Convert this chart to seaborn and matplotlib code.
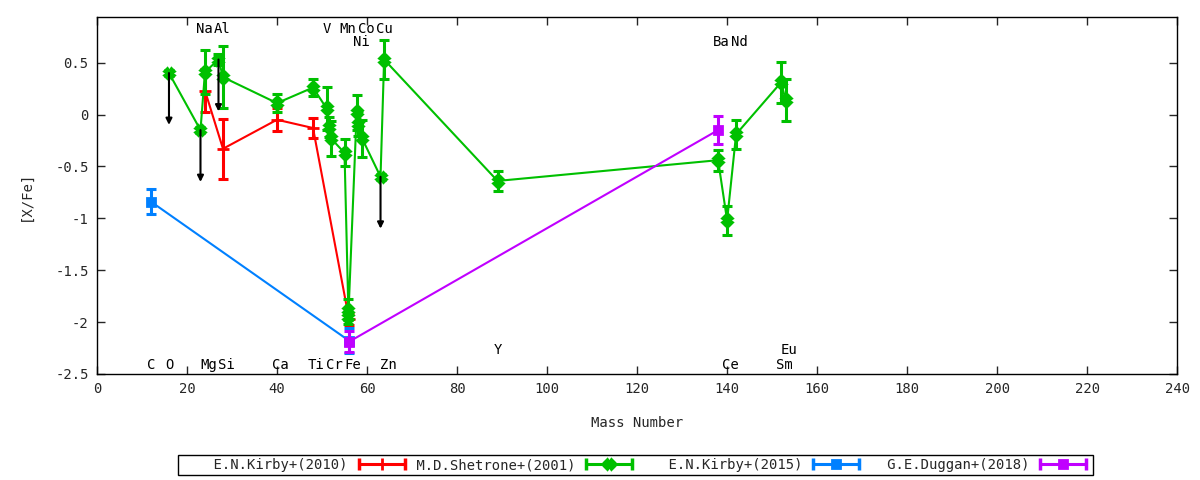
import matplotlib
matplotlib.use("Agg")
import matplotlib.pyplot as plt
import numpy as np
import seaborn as sns
from matplotlib.lines import Line2D
from matplotlib.legend_handler import HandlerLine2D
from matplotlib.ticker import FuncFormatter

# E.N.Kirby+(2010)
kirby10_mass = [24, 28, 40, 48, 56]
kirby10_xfe = [0.23, -0.33, -0.05, -0.13, -1.97]
kirby10_err = [0.21, 0.29, 0.11, 0.10, 0.06]

# M.D.Shetrone+(2001)
shetrone_mass = [16, 23, 24, 27, 28, 40, 48, 51, 51.5, 52, 55, 55.85, 55.85,
                 57.7, 58.1, 58.9, 63, 63.8, 89, 138, 140, 142, 152, 153]
shetrone_xfe = [0.40, -0.15, 0.41, 0.53, 0.36, 0.11, 0.26, 0.06, -0.12, -0.23, -0.37, -1.88, -1.95,
                0.02, -0.09, -0.23, -0.60, 0.53, -0.64, -0.44, -1.02, -0.19, 0.31, 0.14]
shetrone_err = [0.03, 0.03, 0.21, 0.05, 0.30, 0.09, 0.08, 0.21, 0.10, 0.17, 0.13, 0.10, 0.07,
                0.17, 0.12, 0.18, 0.03, 0.19, 0.10, 0.10, 0.14, 0.14, 0.20, 0.20]
# upper limits (O, Na, Al, Cu)
ulim_mass = [16, 23, 27, 63]
ulim_xfe = [0.40, -0.15, 0.53, -0.60]

# E.N.Kirby+(2015)
kirby15_mass = [12, 56]
kirby15_xfe = [-0.84, -2.18]
kirby15_err = [0.12, 0.12]

# G.E.Duggan+(2018)
duggan_mass = [56, 138]
duggan_xfe = [-2.19, -0.15]
duggan_err = [0.10, 0.135]

# element labels
top_names = ["Na", "Al", "V", "Mn", "Co", "Cu"]
top_mass = [23, 27, 51, 55, 59, 63]
mid_names = ["Ni", "Ba", "Nd"]
mid_mass = [58, 138, 142]
bot_names = ["C", "O", "Mg", "Si", "Ca", "Ti", "Cr", "Fe", "Zn", "Ce", "Sm"]
bot_mass = [12, 16, 24, 28, 40, 48, 52, 56, 64, 140, 152]
bot2_names = ["Y", "Eu"]
bot2_mass = [89, 153]

sns.set_style("ticks")
plt.rcParams["font.family"] = ["DejaVu Sans Mono"]
plt.rcParams["font.size"] = 10
plt.rcParams["axes.unicode_minus"] = False

fig = plt.figure(figsize=(12, 4.8), dpi=100)
ax = fig.add_axes([0.0808, 0.221, 0.9002, 0.7436])

# upper limit arrows
for m, v in zip(ulim_mass, ulim_xfe):
    ax.annotate("", xy=(m, v - 0.5), xytext=(m, v),
                arrowprops=dict(arrowstyle="-|>", color="black", lw=1.5, mutation_scale=9,
                                shrinkA=0, shrinkB=0))

series = [
    ("E.N.Kirby+(2010)", kirby10_mass, kirby10_xfe, kirby10_err, "#ff0000", "+", 8),
    ("M.D.Shetrone+(2001)", shetrone_mass, shetrone_xfe, shetrone_err, "#00c000", "X", 7),
    ("E.N.Kirby+(2015)", kirby15_mass, kirby15_xfe, kirby15_err, "#0080ff", "s", 6),
    ("G.E.Duggan+(2018)", duggan_mass, duggan_xfe, duggan_err, "#c000ff", "s", 6),
]

handles = []
labels = []
hmap = {}
for name, mass, xfe, err, col, mk, ms in series:
    sns.lineplot(x=mass, y=xfe, sort=False, estimator=None, color=col, lw=1.5, ax=ax,
                 marker=mk, markersize=ms, markeredgewidth=2, markeredgecolor=col)
    ax.errorbar(mass, xfe, yerr=err, fmt="none", ecolor=col, elinewidth=2.2,
                capsize=3.6, capthick=2.2)
    caps = Line2D([], [], color=col, lw=2.2, marker="|", markersize=8, markeredgewidth=2.5)
    centre = Line2D([], [], color=col, lw=0, marker=mk, markersize=ms, markeredgewidth=2,
                    markeredgecolor=col)
    hmap[caps] = HandlerLine2D(numpoints=2)
    hmap[centre] = HandlerLine2D(numpoints=1)
    handles.append((caps, centre))
    labels.append(name.rjust(20))

for names, masses, yy in [(top_names, top_mass, 0.82), (mid_names, mid_mass, 0.70),
                          (bot_names, bot_mass, -2.41), (bot2_names, bot2_mass, -2.27)]:
    for n, m in zip(names, masses):
        ax.annotate(n, xy=(m, yy), xytext=(2.5 * (len(n) - 1), 0), textcoords="offset points",
                    ha="center", va="center", fontsize=10, color="black")

ax.set_xlim(0, 240)
ax.set_ylim(-2.5, 0.94)
ax.set_xticks(np.arange(0, 241, 20))
ax.set_yticks(np.arange(-2.5, 0.51, 0.5))
ax.yaxis.set_major_formatter(FuncFormatter(lambda v, p: "%g" % round(v, 2)))
ax.tick_params(direction="in", length=6, width=1, top=True, right=True, labelsize=10, pad=6)
for s in ax.spines.values():
    s.set_linewidth(1)
    s.set_color("black")
ax.set_xlabel("Mass Number", fontsize=10, labelpad=14)
ax.set_ylabel("[X/Fe]", fontsize=10, labelpad=16)

leg = fig.legend(handles, labels, handler_map=hmap, loc="lower left",
                 bbox_to_anchor=(0.148, 0.0104, 0.763, 0.0313), bbox_transform=fig.transFigure,
                 mode="expand", ncol=4, markerfirst=False, frameon=True, fancybox=False,
                 edgecolor="black", framealpha=1, borderpad=0.2, handlelength=3.9,
                 handletextpad=0.5, borderaxespad=0, fontsize=10)
leg.get_frame().set_linewidth(1)

fig.savefig("out.png", dpi=100)
